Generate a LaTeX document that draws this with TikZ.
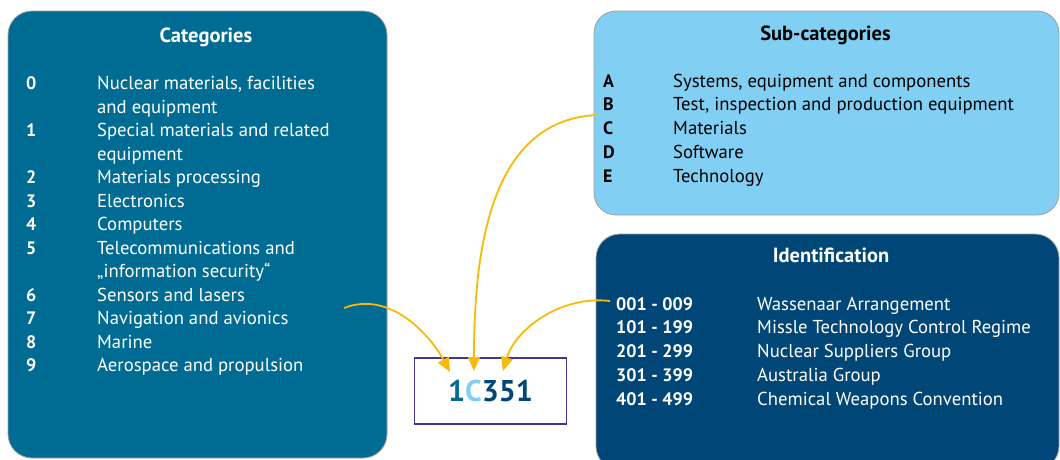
\documentclass[tikz,border=0pt]{standalone}
\usepackage{fontspec}
\setmainfont{PT Sans}
\usetikzlibrary{arrows.meta}
\definecolor{catblue}{RGB}{0,108,148}
\definecolor{subblue}{RGB}{130,207,244}
\definecolor{idblue}{RGB}{0,70,118}
\definecolor{arrowgold}{RGB}{247,185,10}
\definecolor{codeframe}{RGB}{62,55,150}
\tikzset{
  panel/.style={draw=gray!75, line width=0.8pt, rounded corners=24pt},
  head/.style={anchor=base, font=\bfseries\fontsize{20.5}{24}\selectfont, inner sep=0pt},
  key/.style={anchor=base west, font=\bfseries\fontsize{18}{22}\selectfont, inner sep=0pt},
  entry/.style={anchor=base west, font=\fontsize{18.7}{22}\selectfont, inner sep=0pt},
  link/.style={draw=arrowgold, line width=1.8pt, -{Triangle[length=14pt,width=12pt]}},
}
\begin{document}
\begin{tikzpicture}[x=1pt, y=-1pt]
\useasboundingbox (0,0) rectangle (1060,459);

% panels
\draw[panel, fill=catblue] (8,11) rectangle (387,458);
\draw[panel, fill=subblue, rounded corners=22pt] (594,11) rectangle (1059,215);
\draw[panel, fill=idblue] (596,234) rectangle (1059,470);

% categories
\begin{scope}[text=white]
\node[head] (cathead) at (206,42) {Categories};
\foreach \k/\t/\r in {0/{Nuclear materials, facilities}/0, 1/{Special materials and related}/2,
    2/{Materials processing}/4, 3/{Electronics}/5, 4/{Computers}/6,
    5/{Telecommunications and}/7, 6/{Sensors and lasers}/9,
    7/{Navigation and avionics}/10, 8/{Marine}/11, 9/{Aerospace and propulsion}/12}{
  \node[key] (catk\k) at (26,89.5+23.5*\r) {\k};
  \node[entry] (catt\k) at (97,89.5+23.5*\r) {\t};
}
\node[entry] (catt0b) at (97,89.5+23.5*1) {and equipment};
\node[entry] (catt1b) at (97,89.5+23.5*3) {equipment};
\node[entry] (catt5b) at (97,89.5+23.5*8) {„information security“};
\end{scope}

% sub-categories
\begin{scope}[text=black]
\node[head] (subhead) at (825.5,40) {Sub-categories};
\foreach \k/\t/\r in {A/{Systems, equipment and components}/0,
    B/{Test, inspection and production equipment}/1, C/{Materials}/2,
    D/{Software}/3, E/{Technology}/4}{
  \node[key] (subk\k) at (603,87+23.75*\r) {\k};
  \node[entry] (subt\k) at (673,87+23.75*\r) {\t};
}
\end{scope}

% identification
\begin{scope}[text=white]
\node[head] (idhead) at (831,262) {Identification};
\foreach \k/\t/\r in {001 - 009/{Wassenaar Arrangement}/0,
    101 - 199/{Missle Technology Control Regime}/1,
    201 - 299/{Nuclear Suppliers Group}/2,
    301 - 399/{Australia Group}/3,
    401 - 499/{Chemical Weapons Convention}/4}{
  \node[key] (idk\r) at (616,310+23.75*\r) {\k};
  \node[entry] (idt\r) at (757,310+23.75*\r) {\t};
}
\end{scope}

% example code
\node[draw=codeframe, line width=1.6pt, minimum width=152pt, minimum height=66pt,
      inner sep=0pt, font=\bfseries\fontsize{30}{32}\selectfont] (code) at (490.5,391)
  {\textcolor{catblue}{1}\textcolor{subblue}{C}\textcolor{idblue}{351}};

% arrows from each part to its digit
\coordinate (fromcat) at (344,308);
\coordinate (fromsub) at (597,115);
\coordinate (fromid) at (610,301);
\coordinate (tocat) at (450,372);
\coordinate (tosub) at (474,371);
\coordinate (toid) at (503,371);
\draw[link] (fromcat) .. controls (390,290) and (430,335) .. (tocat);
\draw[link] (fromsub) .. controls (490,120) and (474,250) .. (tosub);
\draw[link] (fromid) .. controls (560,295) and (515,330) .. (toid);
\end{tikzpicture}
\end{document}
